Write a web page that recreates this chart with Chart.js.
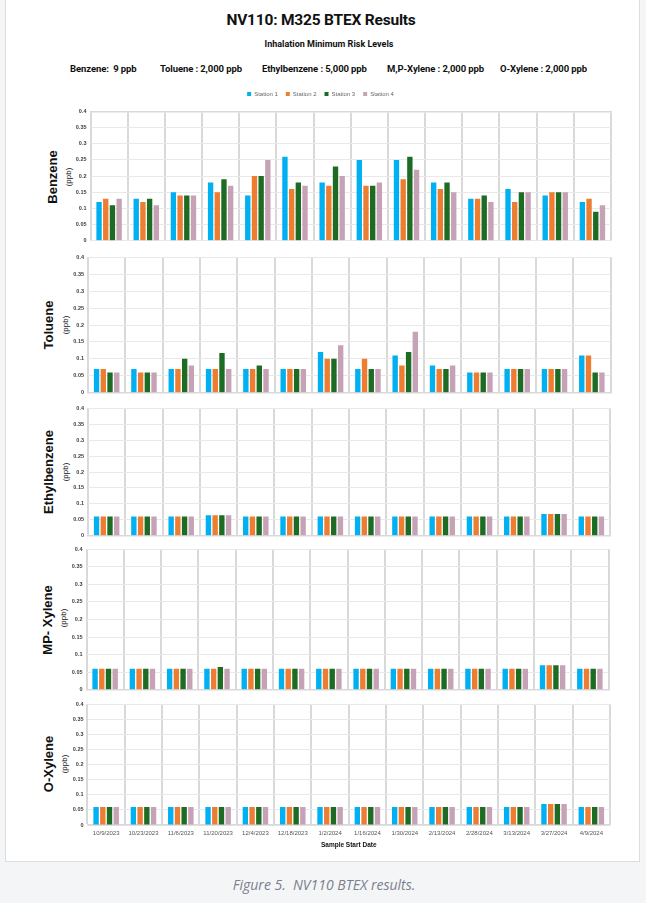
<!DOCTYPE html>
<html><head><meta charset="utf-8">
<script src="https://cdn.jsdelivr.net/npm/chart.js@4.4.1/dist/chart.umd.min.js"></script>
<style>
html,body{margin:0;padding:0;width:646px;height:903px;background:#f4f5f7;overflow:hidden;font-family:Roboto,'Liberation Sans',Arial,sans-serif}
#fig{position:absolute;left:5px;top:-2px;width:635px;height:864px;background:#fff;border:1px solid #dcdde0;box-sizing:border-box}
.t{position:absolute;white-space:nowrap;color:#111;font-weight:bold;transform:translate(-50%,-50%)}
.l{position:absolute;white-space:nowrap;color:#111;font-weight:bold;transform:translateY(-50%);font-size:9.5px;letter-spacing:-0.1px}
canvas{position:absolute;left:0}
.yl{position:absolute;white-space:nowrap;transform:translate(-50%,-50%) rotate(-90deg);font-family:'Liberation Sans',Arial,sans-serif;color:#111}
.yl.big{font-weight:bold;font-size:13px}
.yl.small{font-size:8px}
#cap{position:absolute;left:324px;top:884px;transform:translate(-50%,-50%);font-family:'Open Sans',sans-serif;font-style:italic;font-size:14px;color:#7a808c;white-space:nowrap}
</style></head>
<body>
<div id="fig"></div>
<div class="t" style="left:321px;top:20px;font-size:15.5px;letter-spacing:-0.2px">NV110: M325 BTEX Results</div>
<div class="t" style="left:329px;top:44px;font-size:9px">Inhalation Minimum Risk Levels</div>
<div class="l" style="left:70px;top:68px">Benzene:&nbsp; 9 ppb</div>
<div class="l" style="left:160px;top:68px">Toluene : 2,000 ppb</div>
<div class="l" style="left:262px;top:68px">Ethylbenzene : 5,000 ppb</div>
<div class="l" style="left:387px;top:68px">M,P-Xylene : 2,000 ppb</div>
<div class="l" style="left:500px;top:68px">O-Xylene : 2,000 ppb</div>

<div class="yl big" style="left:51.5px;top:177px">Benzene</div>
<div class="yl small" style="left:67.5px;top:177px">(ppb)</div>
<div class="yl big" style="left:48px;top:325px">Toluene</div>
<div class="yl small" style="left:65px;top:325px">(ppb)</div>
<div class="yl big" style="left:48px;top:472px">Ethylbenzene</div>
<div class="yl small" style="left:65px;top:472px">(ppb)</div>
<div class="yl big" style="left:47px;top:620px">MP- Xylene</div>
<div class="yl small" style="left:62.5px;top:618px">(ppb)</div>
<div class="yl big" style="left:47.5px;top:764px">O-Xylene</div>
<div class="yl small" style="left:63.5px;top:764px">(ppb)</div>

<canvas id="c1" width="646" height="165" style="top:83px"></canvas>
<canvas id="c2" width="646" height="150" style="top:250px"></canvas>
<canvas id="c3" width="646" height="142" style="top:401px"></canvas>
<canvas id="c4" width="646" height="155" style="top:542px"></canvas>
<canvas id="c5" width="646" height="152" style="top:697px"></canvas>
<div id="cap">Figure 5.&nbsp; NV110 BTEX results.</div>

<script>
// ---- data ----
const dates = ['10/9/2023','10/23/2023','11/6/2023','11/20/2023','12/4/2023','12/18/2023','1/2/2024','1/16/2024','1/30/2024','2/13/2024','2/28/2024','3/13/2024','3/27/2024','4/9/2024'];
const sampleNumbers = ['1','2','3','4','5','6','7','8','9','10','11','12','13','14'];
const stationNames = ['Station 1','Station 2','Station 3','Station 4'];
const yTickValues = [0,0.05,0.1,0.15,0.2,0.25,0.3,0.35,0.4];
const yTickLabels = ['0','0.05','0.1','0.15','0.2','0.25','0.3','0.35','0.4'];

const benzeneS1 = [0.12,0.13,0.15,0.18,0.14,0.26,0.18,0.25,0.25,0.18,0.13,0.16,0.14,0.12];
const benzeneS2 = [0.13,0.12,0.14,0.15,0.20,0.16,0.17,0.17,0.19,0.16,0.13,0.12,0.15,0.13];
const benzeneS3 = [0.11,0.13,0.14,0.19,0.20,0.18,0.23,0.17,0.26,0.18,0.14,0.15,0.15,0.09];
const benzeneS4 = [0.13,0.11,0.14,0.17,0.25,0.17,0.20,0.18,0.22,0.15,0.12,0.15,0.15,0.11];

const tolueneS1 = [0.07,0.07,0.07,0.07,0.07,0.07,0.12,0.07,0.11,0.08,0.06,0.07,0.07,0.11];
const tolueneS2 = [0.07,0.06,0.07,0.07,0.07,0.07,0.10,0.10,0.08,0.07,0.06,0.07,0.07,0.11];
const tolueneS3 = [0.06,0.06,0.10,0.117,0.08,0.07,0.10,0.07,0.12,0.07,0.06,0.07,0.07,0.06];
const tolueneS4 = [0.06,0.06,0.08,0.07,0.07,0.07,0.14,0.07,0.18,0.08,0.06,0.07,0.07,0.06];

const ethylS1 = [0.06,0.06,0.06,0.064,0.06,0.06,0.06,0.06,0.06,0.06,0.06,0.06,0.068,0.06];
const ethylS2 = [0.06,0.06,0.06,0.064,0.06,0.06,0.06,0.06,0.06,0.06,0.06,0.06,0.068,0.06];
const ethylS3 = [0.06,0.06,0.06,0.064,0.06,0.06,0.06,0.06,0.06,0.06,0.06,0.06,0.068,0.06];
const ethylS4 = [0.06,0.06,0.06,0.064,0.06,0.06,0.06,0.06,0.06,0.06,0.06,0.06,0.068,0.06];

const mpXyleneS1 = [0.06,0.06,0.06,0.06,0.06,0.06,0.06,0.06,0.06,0.06,0.06,0.06,0.07,0.06];
const mpXyleneS2 = [0.06,0.06,0.06,0.06,0.06,0.06,0.06,0.06,0.06,0.06,0.06,0.06,0.07,0.06];
const mpXyleneS3 = [0.06,0.06,0.06,0.065,0.06,0.06,0.06,0.06,0.06,0.06,0.06,0.06,0.07,0.06];
const mpXyleneS4 = [0.06,0.06,0.06,0.06,0.06,0.06,0.06,0.06,0.06,0.06,0.06,0.06,0.07,0.06];

const oXyleneS1 = [0.06,0.06,0.06,0.06,0.06,0.06,0.06,0.06,0.06,0.06,0.06,0.06,0.07,0.06];
const oXyleneS2 = [0.06,0.06,0.06,0.06,0.06,0.06,0.06,0.06,0.06,0.06,0.06,0.06,0.07,0.06];
const oXyleneS3 = [0.06,0.06,0.06,0.06,0.06,0.06,0.06,0.06,0.06,0.06,0.06,0.06,0.07,0.06];
const oXyleneS4 = [0.06,0.06,0.06,0.06,0.06,0.06,0.06,0.06,0.06,0.06,0.06,0.06,0.07,0.06];

// ---- styles ----
const stationColors = ['#00B0F0','#ED7D31','#1E6B24','#C6A2B6'];
const FONT = "'Liberation Sans', Arial, sans-serif";

function makePanel(id, series, o){
  const datasets = series.map((d,i)=>({
    label: stationNames[i], data: d,
    backgroundColor: stationColors[i],
    borderWidth: 0,
    categoryPercentage: 0.72, barPercentage: 0.8
  }));
  return new Chart(document.getElementById(id), {
    type: 'bar',
    data: { labels: dates, datasets },
    options: {
      responsive: false, animation: false,
      layout: { padding: { left: 30, right: 646 - o.right, top: o.padTop, bottom: o.padBottom } },
      plugins: {
        tooltip: { enabled: false },
        legend: {
          display: !!o.legend, position: 'top', align: 'center',
          labels: { boxWidth: 4, boxHeight: 4, padding: 8, color: '#666', font: { family: FONT, size: 6 } }
        }
      },
      scales: {
        x: {
          position: o.top ? 'top' : 'bottom',
          offset: true,
          grid: { offset: true, color: '#d9d9d9', lineWidth: 2, drawTicks: false },
          border: { color: '#d9d9d9', width: 1.5 },
          ticks: {
            display: !!o.xTicks,
            autoSkip: false, maxRotation: 0,
            padding: o.top ? 3 : 5,
            color: o.top ? '#111' : '#555',
            font: { family: FONT, size: o.top ? 7 : 6, weight: o.top ? 'bold' : 'normal' },
            callback: (v, i) => o.top ? sampleNumbers[i] : dates[i]
          },
          title: {
            display: !!o.xTitle, text: 'Sample Start Date', color: '#111',
            font: { family: FONT, size: 6.5, weight: 'bold' }, padding: 0
          },
          afterFit: s => { s.height = o.xH; }
        },
        y: {
          min: 0, max: 0.4,
          afterBuildTicks: s => { s.ticks = yTickValues.map(v => ({ value: v })); },
          ticks: {
            padding: 4, color: '#404040',
            font: { family: FONT, size: 5.5, weight: 'bold' },
            callback: (v, i) => yTickLabels[i]
          },
          grid: { color: '#e9e9e9', lineWidth: 1, drawTicks: false },
          border: { display: false },
          afterFit: s => { s.width = o.left - 30; }
        }
      }
    }
  });
}

makePanel('c1', [benzeneS1, benzeneS2, benzeneS3, benzeneS4],
  { left: 90.5, right: 611, padTop: 0, padBottom: 6, legend: true, top: true, xTicks: true, xH: 4.5 });
makePanel('c2', [tolueneS1, tolueneS2, tolueneS3, tolueneS4],
  { left: 88, right: 610.5, padTop: 6, padBottom: 6, xH: 0 });
makePanel('c3', [ethylS1, ethylS2, ethylS3, ethylS4],
  { left: 88, right: 610, padTop: 6, padBottom: 6, xH: 0 });
makePanel('c4', [mpXyleneS1, mpXyleneS2, mpXyleneS3, mpXyleneS4],
  { left: 86.5, right: 608.5, padTop: 6, padBottom: 6, xH: 0 });
makePanel('c5', [oXyleneS1, oXyleneS2, oXyleneS3, oXyleneS4],
  { left: 87.5, right: 610, padTop: 6, padBottom: 0, xTicks: true, xTitle: true, xH: 24 });
</script>
</body></html>
